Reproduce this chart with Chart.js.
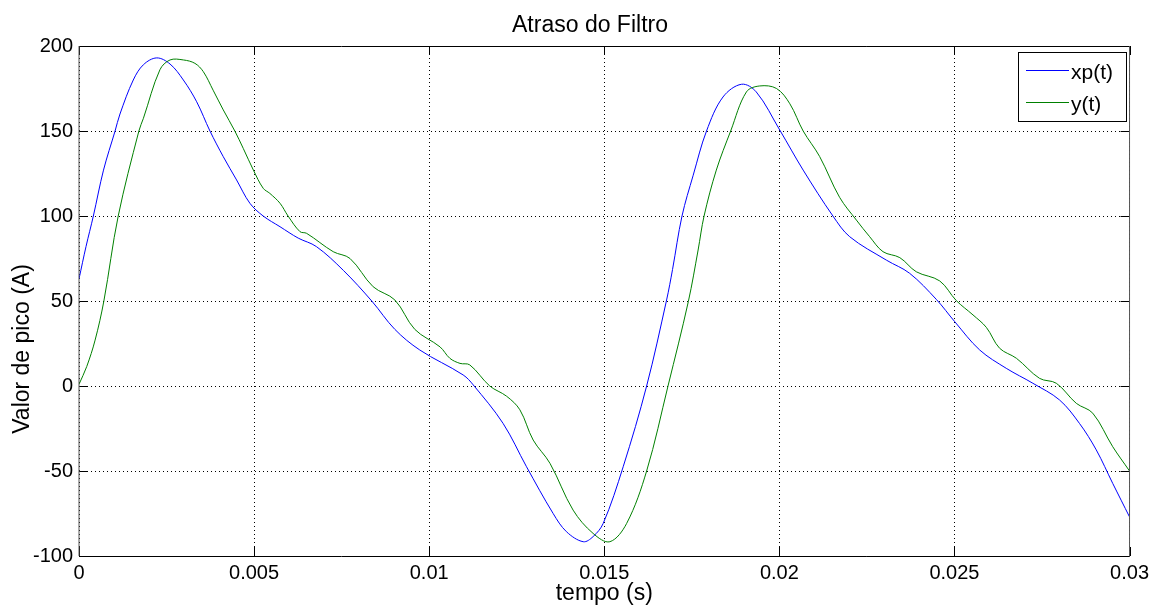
<!DOCTYPE html>
<html>
<head>
<meta charset="utf-8">
<title>Atraso do Filtro</title>
<script src="https://cdn.jsdelivr.net/npm/chart.js@4/dist/chart.umd.min.js"></script>
<style>
  html, body { margin: 0; padding: 0; background: #fff; }
  canvas { display: block; }
</style>
</head>
<body>
<canvas id="chart" width="1154" height="607"></canvas>
<script>
// --- Data ---
const xpTime = [0, 0.0002, 0.00041, 0.0007, 0.00103, 0.00117, 0.00155, 0.00184, 0.00222, 0.0026,
    0.00298, 0.00336, 0.00374, 0.00412, 0.0045, 0.00488, 0.00526, 0.00574, 0.00626, 0.00678,
    0.00755, 0.00836, 0.00902, 0.00973, 0.01097, 0.01126, 0.01211, 0.01278, 0.01354, 0.01392,
    0.0144, 0.01468, 0.01497, 0.01554, 0.01621, 0.01678, 0.01695, 0.01722, 0.01754, 0.01792,
    0.01839, 0.01892, 0.01934, 0.02001, 0.02068, 0.02153, 0.02201, 0.02306, 0.02372, 0.02448,
    0.02501, 0.02572, 0.02648, 0.02724, 0.028, 0.02857, 0.02905, 0.02952, 0.03];
const xpValues = [63, 82, 100, 127, 150, 160, 180, 189, 193, 189.4,
    180, 167.2, 150, 134.9, 121.2, 107.5, 100, 93.7, 87, 82,
    68, 50, 33.3, 21.2, 6.5, 0.6, -22, -47.5, -75, -85.7,
    -91.6, -88.6, -80.8, -47.5, 0, 50.6, 68.6, 100, 124, 150,
    170, 177.5, 173, 150.6, 127, 100, 87.8, 74, 66.3, 51,
    37.8, 21.2, 10.4, 1.6, -8.2, -22, -37.6, -57.3, -77];

const yTime = [0, 0.00022, 0.00046, 0.00071, 0.00112, 0.00171, 0.00184, 0.00231, 0.0026, 0.00298,
    0.00331, 0.00355, 0.00383, 0.00412, 0.00445, 0.00469, 0.00498, 0.00526, 0.00545, 0.00574,
    0.00597, 0.00631, 0.0065, 0.00726, 0.00774, 0.0084, 0.00902, 0.00959, 0.01031, 0.01059,
    0.01088, 0.01116, 0.01173, 0.01221, 0.01259, 0.01297, 0.01345, 0.01411, 0.01468, 0.01516,
    0.01564, 0.01621, 0.01682, 0.0174, 0.01768, 0.01785, 0.0182, 0.01861, 0.01906, 0.01944,
    0.01992, 0.0203, 0.02068, 0.02115, 0.02172, 0.0222, 0.02258, 0.02296, 0.02344, 0.02391,
    0.02458, 0.02505, 0.02553, 0.02591, 0.02629, 0.02677, 0.02743, 0.02791, 0.02848, 0.02895,
    0.02952, 0.03];
const yValues = [1, 11.4, 27, 50, 100, 150, 157.5, 186, 191.8, 191.8,
    189.8, 184.9, 174, 162.4, 150, 139.8, 127, 116.3, 113.3, 107.5,
    100, 90.8, 89.8, 79, 75, 58.4, 50.6, 33.3, 23, 16.3,
    13.3, 12.4, 0, -6, -14, -31.8, -45.5, -73, -86.7, -91.6,
    -80.8, -50, 0, 49.6, 80, 100, 127, 150, 173, 176.5,
    175, 166, 150, 135, 111, 97.6, 87.8, 79, 75.5, 67.2,
    61.8, 50.3, 41.8, 34.5, 22.2, 16.3, 4.5, 1.6, -10.2, -16,
    -35.7, -50];

const seriesNames = ["xp(t)", "y(t)"];
const xTicks = [0, 0.005, 0.01, 0.015, 0.02, 0.025, 0.03];
const xTickLabels = ["0", "0.005", "0.01", "0.015", "0.02", "0.025", "0.03"];
const yTicks = [-100, -50, 0, 50, 100, 150, 200];
const yTickLabels = ["-100", "-50", "0", "50", "100", "150", "200"];

const FONT = "'Liberation Sans', Arial, sans-serif";

// title, y label, frame, inner tick marks and legend box (MATLAB look)
const matlabFrame = {
    id: "matlabFrame",
    afterDraw(chart) {
        const ctx = chart.ctx;
        const area = chart.chartArea;
        const xs = chart.scales.x;
        const ys = chart.scales.y;
        ctx.save();

        // title
        ctx.fillStyle = "#000";
        ctx.font = "23px " + FONT;
        ctx.textAlign = "center";
        ctx.textBaseline = "alphabetic";
        ctx.fillText("Atraso do Filtro", 590, 31.5);

        // y axis label
        ctx.save();
        ctx.translate(28.5, 349);
        ctx.rotate(-Math.PI / 2);
        ctx.fillText("Valor de pico (A)", 0, 0);
        ctx.restore();

        // inner ticks
        ctx.strokeStyle = "#000";
        ctx.lineWidth = 1;
        ctx.beginPath();
        xTicks.forEach(v => {
            const px = Math.round(xs.getPixelForValue(v)) + 0.5;
            ctx.moveTo(px, area.bottom); ctx.lineTo(px, area.bottom - 9);
            ctx.moveTo(px, area.top); ctx.lineTo(px, area.top + 9);
        });
        yTicks.forEach(v => {
            const py = Math.round(ys.getPixelForValue(v)) + 0.5;
            ctx.moveTo(area.left, py); ctx.lineTo(area.left + 9, py);
            ctx.moveTo(area.right, py); ctx.lineTo(area.right - 9, py);
        });
        ctx.stroke();

        // box
        ctx.beginPath();
        ctx.moveTo(area.left, area.top + 0.5); ctx.lineTo(area.right, area.top + 0.5);
        ctx.moveTo(area.left, area.bottom + 0.5); ctx.lineTo(area.right, area.bottom + 0.5);
        ctx.stroke();
        ctx.strokeStyle = "#555";
        ctx.beginPath();
        ctx.moveTo(area.left, area.top); ctx.lineTo(area.left, area.bottom);
        ctx.moveTo(area.right, area.top); ctx.lineTo(area.right, area.bottom);
        ctx.stroke();

        // legend
        const lx = 1018.5, ly = 52.5, lw = 108, lh = 69;
        ctx.fillStyle = "#fff";
        ctx.fillRect(lx, ly, lw, lh);
        ctx.strokeStyle = "#000";
        ctx.strokeRect(lx, ly, lw, lh);
        ctx.font = "21px " + FONT;
        ctx.textAlign = "left";
        chart.data.datasets.forEach((ds, i) => {
            const yy = 70.5 + i * 32;
            ctx.strokeStyle = ds.borderColor;
            ctx.beginPath();
            ctx.moveTo(1026, yy); ctx.lineTo(1069, yy);
            ctx.stroke();
            ctx.fillStyle = "#000";
            ctx.fillText(ds.label, 1071, yy + 8);
        });

        ctx.restore();
    }
};

const toPoints = (ts, vs) => ts.map((t, i) => ({ x: t, y: vs[i] }));

new Chart(document.getElementById("chart"), {
    type: "line",
    data: {
        datasets: [
            {
                label: seriesNames[0],
                data: toPoints(xpTime, xpValues),
                borderColor: "#0000ff",
                borderWidth: 1,
                pointRadius: 0,
                tension: 0.35,
                order: 2
            },
            {
                label: seriesNames[1],
                data: toPoints(yTime, yValues),
                borderColor: "#008000",
                borderWidth: 1,
                pointRadius: 0,
                tension: 0.35,
                order: 1
            }
        ]
    },
    options: {
        responsive: false,
        animation: false,
        layout: { padding: { left: 0, right: 23, top: 46, bottom: 0 } },
        plugins: {
            legend: { display: false },
            title: { display: false },
            tooltip: { enabled: false }
        },
        scales: {
            x: {
                type: "linear",
                min: 0,
                max: 0.03,
                afterBuildTicks: s => { s.ticks = xTicks.map(v => ({ value: v })); },
                afterFit: s => { s.height = 51; },
                ticks: {
                    color: "#000",
                    font: { family: FONT, size: 20 },
                    padding: 5,
                    maxRotation: 0,
                    autoSkip: false,
                    callback: (v, i) => xTickLabels[i]
                },
                grid: { color: "#000", drawTicks: false },
                border: { display: false, dash: [1, 3] },
                title: {
                    display: true,
                    text: "tempo (s)",
                    color: "#000",
                    font: { family: FONT, size: 23 },
                    padding: { top: 0, bottom: 0 }
                }
            },
            y: {
                min: -100,
                max: 200,
                afterBuildTicks: s => { s.ticks = yTicks.map(v => ({ value: v })); },
                afterFit: s => { s.width = 79; },
                ticks: {
                    color: "#000",
                    font: { family: FONT, size: 20 },
                    padding: 6,
                    autoSkip: false,
                    callback: (v, i) => yTickLabels[i]
                },
                grid: { color: "#000", drawTicks: false },
                border: { display: false, dash: [1, 3] }
            }
        }
    },
    plugins: [matlabFrame]
});
</script>
</body>
</html>
